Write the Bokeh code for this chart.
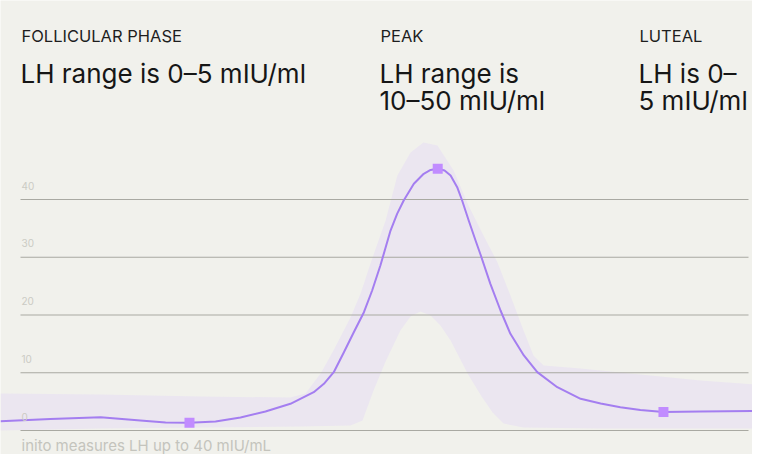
from bokeh.plotting import figure
from bokeh.models import Range1d, ColumnDataSource, Label
from bokeh.embed import file_html
from bokeh.resources import INLINE

# ---- data (x = cycle day, y = LH mIU/ml) ----
line_days = [0.00, 1.82, 3.65, 5.10, 6.02, 6.89, 7.84, 8.75, 9.66, 10.57, 11.42, 11.79,
             12.15, 12.52, 12.88, 13.25, 13.55, 13.85, 14.22, 14.46, 14.70, 15.07, 15.43,
             15.68, 15.94, 16.19, 16.41, 16.65, 16.83, 17.07, 17.32, 17.50, 17.86, 18.23,
             18.59, 19.08, 19.57, 20.30, 21.15, 21.88, 22.60, 23.33, 24.17, 25.52, 28.00]
line_vals = [1.61, 1.99, 2.30, 1.73, 1.39, 1.33, 1.56, 2.25, 3.29, 4.62, 6.63, 8.09,
             10.10, 13.56, 17.02, 20.48, 24.24, 28.57, 34.63, 37.52, 39.83, 42.72, 44.45,
             45.11, 45.32, 45.02, 44.16, 42.13, 39.83, 36.36, 32.90, 30.48, 25.40, 20.78,
             16.74, 12.99, 10.10, 7.50, 5.49, 4.68, 4.04, 3.55, 3.20, 3.29, 3.38]

marker_days = [6.89, 15.94, 24.17]
marker_vals = [1.33, 45.32, 3.20]

band_upper_days = [0.00, 3.65, 7.29, 10.57, 11.12, 11.67, 12.14, 12.76, 13.13, 13.49,
                   14.04, 14.47, 14.95, 15.42, 15.93, 16.52, 17.06, 17.61, 18.12, 18.59,
                   19.07, 19.43, 19.80, 21.15, 22.60, 25.52, 28.00]
band_upper_vals = [6.41, 6.23, 5.89, 5.71, 6.41, 9.87, 13.85, 19.57, 23.72, 28.92,
                   36.36, 44.16, 48.14, 49.87, 49.35, 45.02, 38.96, 33.77, 29.09, 23.38,
                   17.32, 12.99, 11.26, 10.74, 10.04, 8.66, 7.79]
band_lower_days = [0.00, 3.65, 7.29, 10.94, 12.76, 13.20, 13.60, 14.04, 14.58, 14.95,
                   15.31, 15.68, 16.04, 16.41, 17.03, 17.54, 17.94, 18.34, 19.07, 21.88,
                   28.00]
band_lower_vals = [0.00, 0.35, 0.52, 0.69, 0.87, 1.73, 6.93, 11.95, 17.32, 19.74,
                   20.61, 19.91, 18.18, 15.58, 9.87, 5.89, 3.12, 1.21, 0.52, 0.35,
                   0.35]

tick_vals = [0, 10, 20, 30, 40]
tick_labels = ["0", "10", "20", "30", "40"]

phase_titles = ["FOLLICULAR PHASE", "PEAK", "LUTEAL"]
phase_lines = [["LH range is 0\u20135 mIU/ml"],
               ["LH range is", "10\u201350 mIU/ml"],
               ["LH is 0\u2013", "5 mIU/ml"]]
note = "inito measures LH up to 40 mIU/mL"

# ---- layout helpers (reference pixels -> data) ----
PX_PER_DAY = 768 / 28.0
PX_PER_UNIT = 5.775
ZERO_PX = 430.0
W, H = 752, 454


def px2x(px):
    return px / PX_PER_DAY


def px2y(py):
    return (ZERO_PX - py) / PX_PER_UNIT


BG = "#f1f1ec"
FONT = "Inter"

p = figure(width=W, height=H, output_backend="svg", toolbar_location=None,
           x_range=Range1d(px2x(0), px2x(W)), y_range=Range1d(px2y(H), px2y(0)),
           x_axis_location=None, y_axis_location=None,
           min_border=0, min_border_left=0, min_border_right=0,
           min_border_top=0, min_border_bottom=0)
p.background_fill_color = BG
p.border_fill_color = BG
p.outline_line_color = None
p.grid.visible = False

# band
bx = band_upper_days + band_lower_days[::-1]
by = band_upper_vals + band_lower_vals[::-1]
p.patch(bx, by, fill_color="#ebe6f0", line_color=None)

# grid lines
gx0 = [px2x(20)] * len(tick_vals)
gx1 = [px2x(748)] * len(tick_vals)
p.segment(x0=gx0, y0=tick_vals, x1=gx1, y1=tick_vals, line_color="#a9a9a2", line_width=1.2)

# tick labels above gridlines
for v, t in zip(tick_vals, tick_labels):
    p.add_layout(Label(x=px2x(21), y=v + 14 / PX_PER_UNIT, text=t, text_font=FONT,
                       text_font_size="10px", text_color="#cbcbc4",
                       text_baseline="alphabetic"))

# curve
src = ColumnDataSource(dict(x=line_days, y=line_vals))
p.line("x", "y", source=src, line_color="#a47ef0", line_width=2, line_join="round")

p.scatter(marker_days, marker_vals, marker="square", size=10, fill_color="#c18cff",
          line_color=None)

# header texts
title_x = [21, 380, 639]
for tx, title, lines in zip(title_x, phase_titles, phase_lines):
    p.add_layout(Label(x=px2x(tx), y=px2y(35), text=title, text_font=FONT,
                       text_font_size="16.5px", text_color="#1e1e1e",
                       text_baseline="alphabetic"))
    for i, ln in enumerate(lines):
        p.add_layout(Label(x=px2x(tx - 1), y=px2y(73 + 27 * i), text=ln, text_font=FONT,
                           text_font_size="26px", text_color="#161616",
                           text_baseline="alphabetic"))

p.add_layout(Label(x=px2x(21), y=px2y(445), text=note, text_font=FONT,
                   text_font_size="15px", text_color="#c4c4bd", text_baseline="alphabetic"))

open("out.html", "w").write(file_html(p, INLINE))
